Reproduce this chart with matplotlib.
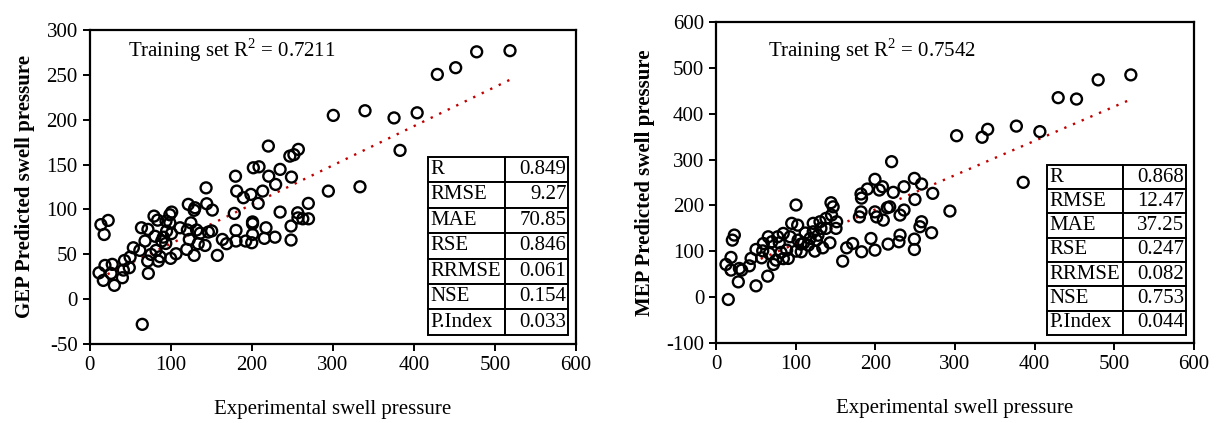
import matplotlib
matplotlib.use("Agg")
import matplotlib.pyplot as plt
import numpy as np

plt.rcParams['font.family'] = ['Liberation Serif', 'DejaVu Serif']
plt.rcParams['mathtext.fontset'] = 'custom'
plt.rcParams['mathtext.rm'] = 'Liberation Serif'
plt.rcParams['axes.unicode_minus'] = False

# GEP model (left)
gep_x = [300.6, 220.5, 257.5, 247, 252, 202, 209, 180, 235, 221, 249, 229.5, 181.5, 143.7,
         213.5, 189.7, 199, 208, 269.8, 121.8, 144.5, 130, 151.4, 129, 101.3, 99, 79.5, 84,
         94.3, 178.5, 235, 256.7, 257, 263, 270, 201, 14, 23, 18, 64, 72, 111.6, 120.6, 95,
         101, 91, 125, 132, 136.5, 146.5, 150.6, 123, 134, 142.4, 119.8, 129, 157.6, 163.8,
         169, 180.6, 192.6, 200, 201, 180.6, 215.6, 217.6, 228.7, 248.5, 248.5, 201, 99,
         80.8, 68.4, 54, 62, 89, 94, 82, 75.8, 87, 100, 106.7, 71.7, 84.8, 72.5, 50, 43, 49,
         41.7, 40.5, 30.6, 28, 19, 11.7, 17, 26.5, 65, 294.5,
         518.5, 477.4, 451.5, 428.9, 404, 375.5, 339.7, 382.9, 333.5]
gep_y = [204.8, 170.6, 166.9, 159.4, 161, 146.4, 147.5, 137, 144.6, 137, 136, 127.8, 120.4, 124,
         120.4, 113, 116.7, 106.7, 106.7, 105.6, 106.3, 101.8, 99.2, 99, 97, 94, 92.5, 88,
         87, 95.5, 97, 96.2, 90.5, 89.5, 89.5, 86, 83, 87.7, 72, 79.5, 77.7, 79.5, 77, 75.8,
         73, 69, 85, 77, 73.5, 74.7, 76, 66.5, 61.7, 59.8, 55.4, 48.7, 48.7, 66.5,
         61.7, 64.7, 64.7, 62.8, 72, 76.6, 67.7, 79.5, 69, 65.8, 81.4, 84, 85,
         70, 64.7, 57.2, 54.3, 64.7, 62, 54.3, 49.8, 47.2, 45.4, 50.5, 42.4, 42.4, 28.6, 46.8, 43, 35,
         32.3, 23.8, 15.3, 38.7, 37.5, 29.3, 20.8, 28.6, -28.2, 120.4,
         277, 275.7, 258, 250.5, 207.7, 202, 210, 165.8, 125.2]

# MEP model (right)
mep_x = [220.4, 199.5, 190, 182, 182.6, 205, 209, 222.5, 236, 249, 258, 272, 249.7, 218, 215,
         236, 231, 199.5, 201.6, 210, 180, 182, 258, 256, 270.6, 231, 249, 229.6, 216, 249,
         199.5, 194.5, 182.8, 171.5, 164, 159, 144.3, 147, 145, 138, 130.5, 122, 131.7, 122,
         151.4, 150.6, 143, 134, 124, 116, 126, 100.4, 95, 102.5, 84.4, 93, 103, 106.6, 77.4,
         65.6, 70, 79.4, 59.4, 50.2, 58.6, 67, 81.6, 88.7, 100.4, 107, 90.7, 84.5, 75.3, 72,
         57.3, 44, 41.8, 32.2, 29.3, 23, 20.5, 18.8, 12.5, 18.8, 28, 15.4, 50.2, 64.9, 293.6,
         112, 118, 138, 110, 128,
         520.7, 479.7, 452.5, 429.5, 406.5, 377, 341, 334, 302, 385.6]
mep_y = [295.5, 257, 235.8, 225, 216, 233.6, 240.8, 228.6, 240.8, 259, 246.7, 226.4, 213, 197, 195,
         190, 179, 186, 175, 168, 175, 186, 164.5, 153.6, 140.5, 135.4, 126.6, 120.8, 115.7, 104,
         102.6, 128, 99, 117, 107.6, 78.6, 206, 197, 179, 171.8, 164.5, 161, 150, 142.6,
         164.5, 150, 118.6, 107.6, 100.4, 113.5, 124.4, 201, 161, 157, 139, 131.7, 124.4, 115.7, 131.7,
         131.7, 120.8, 118.6, 117, 104, 101, 95.4, 97.6, 102.6, 100.4, 99, 84.5, 84, 80.8, 71.4,
         85.8, 84.5, 68.3, 59, 62.7, 135.4, 124.4, 86.7, 71.4, 59, 33.4, -5, 24.7, 45.9, 187.8,
         140, 128, 150, 118, 135,
         484.7, 473.8, 432, 435, 361, 373, 366, 348.7, 352, 250.4]

# trend lines: slope, intercept
gep_fit = [0.437, 18.0]
mep_fit = [0.748, 41.7]

stat_names = ['R', 'RMSE', 'MAE', 'RSE', 'RRMSE', 'NSE', 'P.Index']
gep_stats = ['0.849', '9.27', '70.85', '0.846', '0.061', '0.154', '0.033']
mep_stats = ['0.868', '12.47', '37.25', '0.247', '0.082', '0.753', '0.044']


def pannello(ax, x, y, fit, stats, r2, ylabel, ylim, ystep, txt_pos, tab_box):
    ax.scatter(x, y, s=62, facecolors='none', edgecolors='black', linewidths=1.7, zorder=3)
    xs = np.array([min(x), max(x)])
    ax.plot(xs, fit[0] * xs + fit[1], color='#c00000', linestyle=(0, (1, 3)), lw=1.7, zorder=2)
    ax.set_xlim(0, 600)
    ax.set_ylim(*ylim)
    ax.set_xticks(np.arange(0, 601, 100))
    ax.set_yticks(np.arange(ylim[0], ylim[1] + 1, ystep))
    ax.tick_params(direction='out', length=5, width=1.4, labelsize=15)
    for s in ax.spines.values():
        s.set_linewidth(1.6)
    ax.set_xlabel('Experimental swell pressure', fontsize=15, labelpad=18)
    ax.set_ylabel(ylabel, fontsize=15, fontweight='bold', labelpad=8)
    ax.text(txt_pos[0], txt_pos[1], 'Training set R$^{2}$ = ' + r2, transform=ax.transAxes,
            fontsize=15, va='center')
    tab = ax.table(cellText=[[n, v] for n, v in zip(stat_names, stats)],
                   colWidths=[0.55, 0.45], bbox=tab_box, zorder=4)
    tab.auto_set_font_size(False)
    tab.set_fontsize(15)
    for (r, c), cella in tab.get_celld().items():
        cella.set_linewidth(1.4)
        cella.PAD = 0.03
        cella.set_text_props(ha='left' if c == 0 else 'right')


fig = plt.figure(figsize=(12.2, 4.23), dpi=100)
ax1 = fig.add_axes([0.0734, 0.187, 0.3988, 0.742])
ax2 = fig.add_axes([0.5869, 0.189, 0.3918, 0.759])

pannello(ax1, gep_x, gep_y, gep_fit, gep_stats, '0.7211', 'GEP Predicted swell pressure',
         (-50, 300), 50, (0.079, 0.936), [0.696, 0.029, 0.288, 0.567])
pannello(ax2, mep_x, mep_y, mep_fit, mep_stats, '0.7542', 'MEP Predicted swell pressure',
         (-100, 600), 100, (0.109, 0.913), [0.692, 0.025, 0.291, 0.53])

fig.savefig('out.png', dpi=100)
